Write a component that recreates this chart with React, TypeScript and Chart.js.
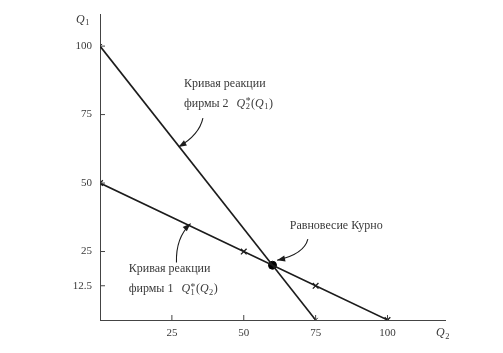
import React, { useEffect, useRef } from "react";
import { Chart, registerables } from "chart.js";

Chart.register(...registerables);

// ---- data ----
const firm2CurveQ2 = [0, 75];
const firm2CurveQ1 = [100, 0];
const firm1CurveQ2 = [0, 50, 75, 100];
const firm1CurveQ1 = [50, 25, 12.5, 0];
const cournotQ2 = [60];
const cournotQ1 = [20];
const xTickValues = [25, 50, 75, 100];
const yTickValues = [12.5, 25, 50, 75, 100];
const firm2LabelLines = ["Кривая реакции", "фирмы 2"];
const firm1LabelLines = ["Кривая реакции", "фирмы 1"];
const cournotLabel = "Равновесие Курно";

const SERIF = "'Liberation Serif', 'DejaVu Serif', serif";
const TEXT = "#3a3a3a";
const INK = "#1c1c1c";

type Seg = { t: string; italic?: boolean; pos?: "sub" | "sup" | "both"; sup?: string };

function drawRich(ctx: CanvasRenderingContext2D, x: number, y: number, segs: Seg[], size: number) {
  let cx = x;
  for (const s of segs) {
    if (s.pos === "sub" || s.pos === "both") {
      ctx.font = `${size * 0.7}px ${SERIF}`;
      ctx.fillText(s.t, cx, y + size * 0.3);
      let w = ctx.measureText(s.t).width;
      if (s.pos === "both" && s.sup) {
        ctx.font = `${size * 0.8}px ${SERIF}`;
        ctx.fillText(s.sup, cx, y - size * 0.12);
        w = Math.max(w, ctx.measureText(s.sup).width);
      }
      cx += w + 0.5;
    } else {
      ctx.font = `${s.italic ? "italic " : ""}${size}px ${SERIF}`;
      ctx.fillText(s.t, cx, y);
      cx += ctx.measureText(s.t).width + (s.italic ? 0.5 : 0);
    }
  }
}

function arrow(ctx: CanvasRenderingContext2D, x0: number, y0: number, cx: number, cy: number, x1: number, y1: number) {
  ctx.beginPath();
  ctx.moveTo(x0, y0);
  ctx.quadraticCurveTo(cx, cy, x1, y1);
  ctx.stroke();
  const ang = Math.atan2(y1 - cy, x1 - cx);
  const L = 8, W = 3;
  ctx.beginPath();
  ctx.moveTo(x1, y1);
  ctx.lineTo(x1 - L * Math.cos(ang) + W * Math.sin(ang), y1 - L * Math.sin(ang) - W * Math.cos(ang));
  ctx.lineTo(x1 - L * Math.cos(ang) - W * Math.sin(ang), y1 - L * Math.sin(ang) + W * Math.cos(ang));
  ctx.closePath();
  ctx.fill();
}

const annotPlugin = {
  id: "annot",
  afterDraw(chart: any) {
    const ctx: CanvasRenderingContext2D = chart.ctx;
    const xs = chart.scales.x;
    const ys = chart.scales.y;
    const px = (v: number) => xs.getPixelForValue(v);
    const py = (v: number) => ys.getPixelForValue(v);
    const area = chart.chartArea;
    ctx.save();
    // inward tick marks
    ctx.strokeStyle = "#444";
    ctx.lineWidth = 1;
    for (const v of xTickValues) {
      ctx.beginPath();
      ctx.moveTo(px(v), area.bottom);
      ctx.lineTo(px(v), area.bottom - 5);
      ctx.stroke();
    }
    for (const v of yTickValues) {
      ctx.beginPath();
      ctx.moveTo(area.left, py(v));
      ctx.lineTo(area.left + 5, py(v));
      ctx.stroke();
    }
    ctx.fillStyle = TEXT;
    ctx.textBaseline = "middle";
    ctx.textAlign = "left";
    // axis titles
    drawRich(ctx, area.left - 24, area.top + 5, [{ t: "Q", italic: true }, { t: "1", pos: "sub" }], 12);
    drawRich(ctx, area.right - 9, area.bottom + 13, [{ t: "Q", italic: true }, { t: "2", pos: "sub" }], 12);

    const fs = 12;
    // firm 2 label
    ctx.font = `${fs}px ${SERIF}`;
    ctx.fillText(firm2LabelLines[0], px(29.2), py(86.3));
    ctx.fillText(firm2LabelLines[1], px(29.2), py(79.1));
    let w = ctx.measureText(firm2LabelLines[1]).width;
    drawRich(ctx, px(29.2) + w + 8, py(79.1), [
      { t: "Q", italic: true }, { t: "2", pos: "both", sup: "*" }, { t: "(" }, { t: "Q", italic: true }, { t: "1", pos: "sub" }, { t: ")" },
    ], fs);
    // firm 1 label
    ctx.font = `${fs}px ${SERIF}`;
    ctx.fillText(firm1LabelLines[0], px(10), py(18.7));
    ctx.fillText(firm1LabelLines[1], px(10), py(11.2));
    w = ctx.measureText(firm1LabelLines[1]).width;
    drawRich(ctx, px(10) + w + 8, py(11.2), [
      { t: "Q", italic: true }, { t: "1", pos: "both", sup: "*" }, { t: "(" }, { t: "Q", italic: true }, { t: "2", pos: "sub" }, { t: ")" },
    ], fs);
    // cournot label
    ctx.font = `${fs}px ${SERIF}`;
    ctx.fillText(cournotLabel, px(66), py(34.2));

    // arrows
    ctx.strokeStyle = INK;
    ctx.fillStyle = INK;
    ctx.lineWidth = 1.1;
    arrow(ctx, px(35.8), py(73.7), px(34.5), py(67.5), px(27.3), py(63.2));
    arrow(ctx, px(26.6), py(21), px(26.3), py(30), px(31.5), py(35.2));
    arrow(ctx, px(72.3), py(29.5), px(71), py(24), px(61.6), py(21.8));
    ctx.restore();
  },
};

export default function App() {
  const ref = useRef<HTMLCanvasElement | null>(null);
  useEffect(() => {
    if (!ref.current) return;
    const chart = new Chart(ref.current, {
      type: "scatter",
      data: {
        datasets: [
          {
            label: "firm2",
            data: firm2CurveQ2.map((v, i) => ({ x: v, y: firm2CurveQ1[i] })),
            showLine: true,
            borderColor: INK,
            borderWidth: 1.6,
            pointStyle: "crossRot",
            pointRadius: 3,
            pointBorderColor: INK,
            pointBorderWidth: 1,
          },
          {
            label: "firm1",
            data: firm1CurveQ2.map((v, i) => ({ x: v, y: firm1CurveQ1[i] })),
            showLine: true,
            borderColor: INK,
            borderWidth: 1.5,
            pointStyle: "crossRot",
            pointRadius: 4,
            pointBorderColor: INK,
            pointBorderWidth: 1.3,
          },
          {
            label: "cournot",
            data: cournotQ2.map((v, i) => ({ x: v, y: cournotQ1[i] })),
            pointStyle: "circle",
            pointRadius: 4,
            backgroundColor: "#000",
            borderColor: "#000",
          },
        ],
      },
      options: {
        animation: false,
        responsive: false,
        maintainAspectRatio: false,
        layout: { padding: { top: 10, right: 58, left: 0, bottom: 0 } },
        plugins: { legend: { display: false }, tooltip: { enabled: false } },
        scales: {
          x: {
            type: "linear",
            min: 0,
            max: 120,
            afterFit: (s: any) => { s.height = 33; },
            afterBuildTicks: (s: any) => { s.ticks = xTickValues.map((v) => ({ value: v })); },
            grid: { display: true, drawOnChartArea: false, drawTicks: false },
            border: { display: true, color: "#444", width: 1 },
            ticks: {
              padding: 7,
              color: TEXT,
              font: { family: SERIF, size: 11 },
              callback: (v: any) => String(v),
            },
          },
          y: {
            type: "linear",
            min: 0,
            max: 111.5,
            afterFit: (s: any) => { s.width = 100; },
            afterBuildTicks: (s: any) => { s.ticks = yTickValues.map((v) => ({ value: v })); },
            grid: { display: true, drawOnChartArea: false, drawTicks: false },
            border: { display: true, color: "#444", width: 1 },
            ticks: {
              padding: 8,
              color: TEXT,
              font: { family: SERIF, size: 11 },
              callback: (v: any) => String(v),
            },
          },
        },
      },
      plugins: [annotPlugin],
    } as any);
    return () => chart.destroy();
  }, []);
  return (
    <div style={{ position: "fixed", left: 0, top: 0, width: 503, height: 353, background: "#fff" }}>
      <canvas ref={ref} width={503} height={353} style={{ width: 503, height: 353, display: "block" }} />
    </div>
  );
}
